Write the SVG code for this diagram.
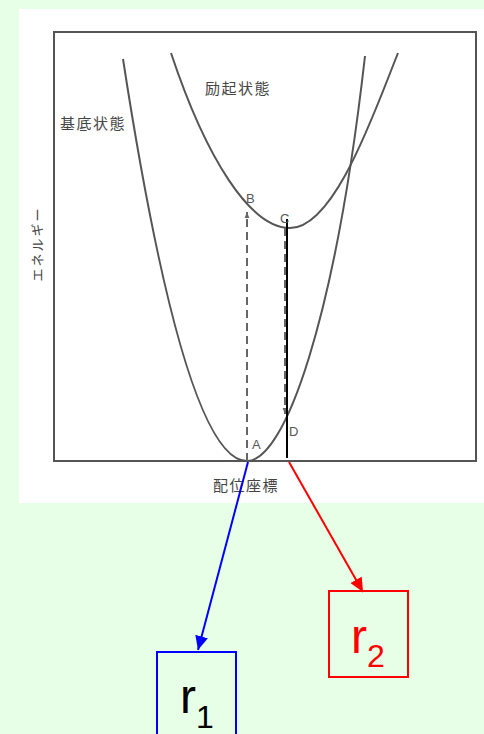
<svg xmlns="http://www.w3.org/2000/svg" width="484" height="734" viewBox="0 0 484 734">
  <style>
    .curve { fill: none; stroke: #555; stroke-width: 2; }
    .frame { fill: none; stroke: #555; stroke-width: 2; }
    .dash { fill: none; stroke: #666; stroke-width: 2; stroke-dasharray: 8 5; }
    .lbl { font-family: "Liberation Sans", Arial, sans-serif; font-size: 13px; fill: #555; }
    .jp { font-family: "Noto Sans CJK JP", "Liberation Sans", sans-serif; font-size: 15px; fill: #444; letter-spacing: 1.5px; }
    .jpv { font-family: "Noto Sans CJK JP", "Liberation Sans", sans-serif; font-size: 13px; fill: #444; letter-spacing: 2px; }
    .r { font-family: "Liberation Sans", Arial, sans-serif; font-size: 48px; }
    .sub { font-family: "Liberation Sans", Arial, sans-serif; font-size: 32px; }
  </style>
  <defs>
    <marker id="ab" viewBox="0 0 14 13" refX="14" refY="6.5" markerWidth="14" markerHeight="13" markerUnits="userSpaceOnUse" orient="auto">
      <path d="M0,0 L14,6.5 L0,13 z" fill="#0000ff"/>
    </marker>
    <marker id="ar" viewBox="0 0 14 13" refX="14" refY="6.5" markerWidth="14" markerHeight="13" markerUnits="userSpaceOnUse" orient="auto">
      <path d="M0,0 L14,6.5 L0,13 z" fill="#ff0000"/>
    </marker>
    <marker id="ag" viewBox="0 0 10 10" refX="10" refY="5" markerWidth="6" markerHeight="6" markerUnits="userSpaceOnUse" orient="auto">
      <path d="M0,1 L10,5 L0,9 z" fill="#666"/>
    </marker>
  </defs>
  <rect x="0" y="0" width="484" height="734" fill="#e6ffe6"/>
  <rect x="19" y="9" width="465" height="494" fill="#ffffff"/>

  <g id="plot">
    <rect class="frame" x="54" y="32" width="422" height="429"/>
    <path class="curve" d="M123,59 Q185,461 247,461 C285,461 335,320 365,56"/>
    <path class="curve" d="M171,53 C206,158 250,228 290,228 C335,228 375,110 398,53"/>
    <line class="dash" x1="247" y1="461" x2="247" y2="212" marker-end="url(#ag)"/>
    <line class="dash" x1="285" y1="228" x2="285" y2="414" marker-end="url(#ag)"/>
    <line x1="287" y1="219" x2="287" y2="458" stroke="#000" stroke-width="2"/>
    <text class="lbl" x="246" y="203">B</text>
    <text class="lbl" x="280" y="223">C</text>
    <text class="lbl" x="289" y="436">D</text>
    <text class="lbl" x="252" y="449">A</text>
    <text class="jp" x="205" y="94">励起状態</text>
    <text class="jp" x="60" y="129">基底状態</text>
    <text class="jp" x="213" y="491">配位座標</text>
    <text class="jpv" transform="translate(42,244) rotate(-90)" text-anchor="middle">エネルギー</text>
  </g>

  <g id="connectors">
    <line x1="248" y1="462" x2="198" y2="650" stroke="#0000ff" stroke-width="2" marker-end="url(#ab)"/>
    <line x1="289" y1="462" x2="363" y2="592" stroke="#ff0000" stroke-width="2" marker-end="url(#ar)"/>
  </g>

  <g id="r1">
    <rect x="157" y="652" width="79" height="90" fill="none" stroke="#0000ff" stroke-width="2"/>
    <text class="r" x="180" y="713" fill="#000">r</text>
    <text class="sub" x="196" y="728" fill="#000">1</text>
  </g>
  <g id="r2">
    <rect x="329" y="591" width="79" height="86" fill="none" stroke="#ff0000" stroke-width="2"/>
    <text class="r" x="351" y="653" fill="#ff0000">r</text>
    <text class="sub" x="367" y="667" fill="#ff0000">2</text>
  </g>
</svg>
